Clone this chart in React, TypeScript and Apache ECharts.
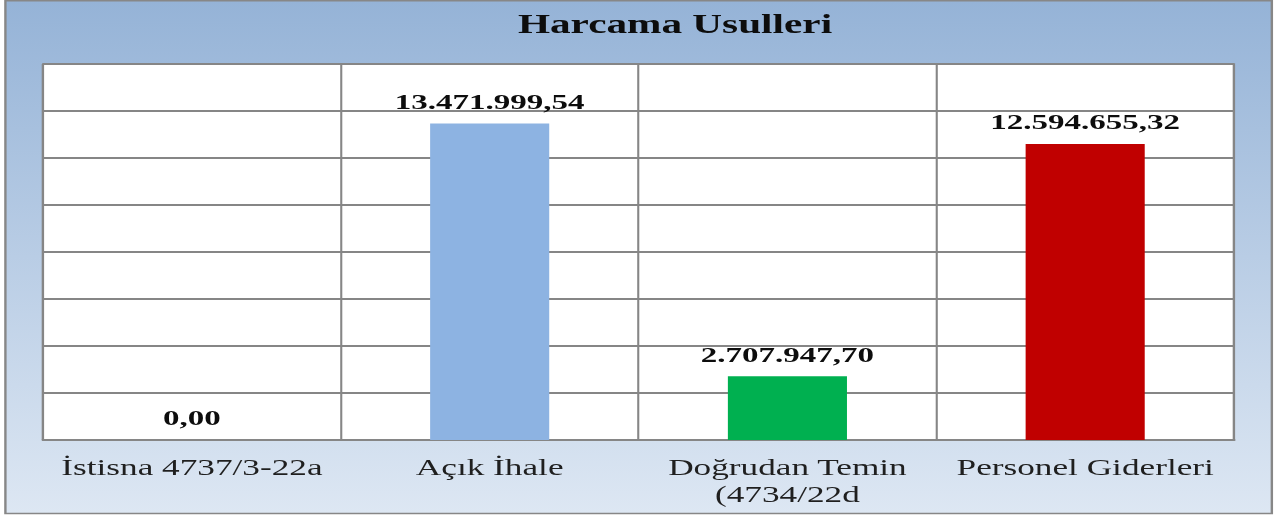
import React, { useEffect, useRef } from "react";
import * as echarts from "echarts";

const titleText = "Harcama Usulleri";
const categories = [
  "İstisna 4737/3-22a",
  "Açık İhale",
  "Doğrudan Temin\n(4734/22d",
  "Personel Giderleri",
];
const values = [0, 13471999.54, 2707947.7, 12594655.32];
const barColors = ["#8db3e2", "#8db3e2", "#00b050", "#c00000"];
const yMin = 0;
const yMax = 16000000;
const yInterval = 2000000;

const SCALE_X = 1.5;
const W = 1278 / SCALE_X;
const H = 515;

function formatTR(v: number): string {
  const fixed = v.toFixed(2);
  const [intPart, dec] = fixed.split(".");
  const withDots = intPart.replace(/\B(?=(\d{3})+(?!\d))/g, ".");
  return withDots + "," + dec;
}

export default function App() {
  const ref = useRef<HTMLDivElement>(null);
  useEffect(() => {
    if (!ref.current) return;
    const chart = echarts.init(ref.current, undefined, { renderer: "svg" });
    const serif = '"Liberation Serif", "Times New Roman", serif';
    chart.setOption({
      animation: false,
      backgroundColor: "transparent",
      graphic: [
        {
          type: "rect",
          z: -100,
          silent: true,
          shape: { x: 3.6, y: 0.8, width: 844.3, height: 512.7 },
          style: {
            fill: new echarts.graphic.LinearGradient(0, 0, 0, 1, [
              { offset: 0, color: "#95b3d7" },
              { offset: 1, color: "#dde7f3" },
            ]),
            stroke: "#878787",
            lineWidth: 1.6,
          },
        },
        {
          type: "text",
          z: 10,
          silent: true,
          style: {
            x: 450,
            y: 24,
            text: titleText,
            textAlign: "center",
            textVerticalAlign: "middle",
            font: `bold 27.5px ${serif}`,
            fill: "#0d0d0d",
          },
        },
      ],
      grid: {
        left: 28.7,
        right: W - 822.7,
        top: 64,
        bottom: H - 440,
        show: true,
        backgroundColor: "#ffffff",
        borderColor: "#868686",
        borderWidth: 1.4,
      },
      xAxis: {
        type: "category",
        data: categories,
        boundaryGap: true,
        axisLine: { show: true, lineStyle: { color: "#868686", width: 2 } },
        axisTick: { show: false },
        splitLine: {
          show: true,
          interval: 0,
          lineStyle: { color: "#868686", width: 1.4 },
        },
        axisLabel: {
          interval: 0,
          margin: 13,
          fontFamily: serif,
          fontSize: 23.5,
          lineHeight: 27,
          color: "#1f1f1f",
        },
      },
      yAxis: {
        type: "value",
        min: yMin,
        max: yMax,
        interval: yInterval,
        axisLine: { show: false },
        axisTick: { show: false },
        axisLabel: { show: false },
        splitLine: { show: true, lineStyle: { color: "#868686", width: 2 } },
      },
      series: [
        {
          type: "bar",
          barWidth: "40%",
          data: values.map((v, i) => ({
            value: v,
            itemStyle: { color: barColors[i] },
          })),
          label: {
            show: true,
            position: "top",
            distance: 11,
            fontFamily: serif,
            fontSize: 22,
            fontWeight: "bold",
            color: "#0d0d0d",
            formatter: (p: any) => formatTR(p.value),
          },
        },
      ],
    });
    return () => chart.dispose();
  }, []);

  return (
    <div
      style={{
        position: "fixed",
        left: 0,
        top: 0,
        width: W,
        height: H,
        transform: `scaleX(${SCALE_X})`,
        transformOrigin: "0 0",
      }}
    >
      <div ref={ref} style={{ width: W, height: H }} />
    </div>
  );
}
